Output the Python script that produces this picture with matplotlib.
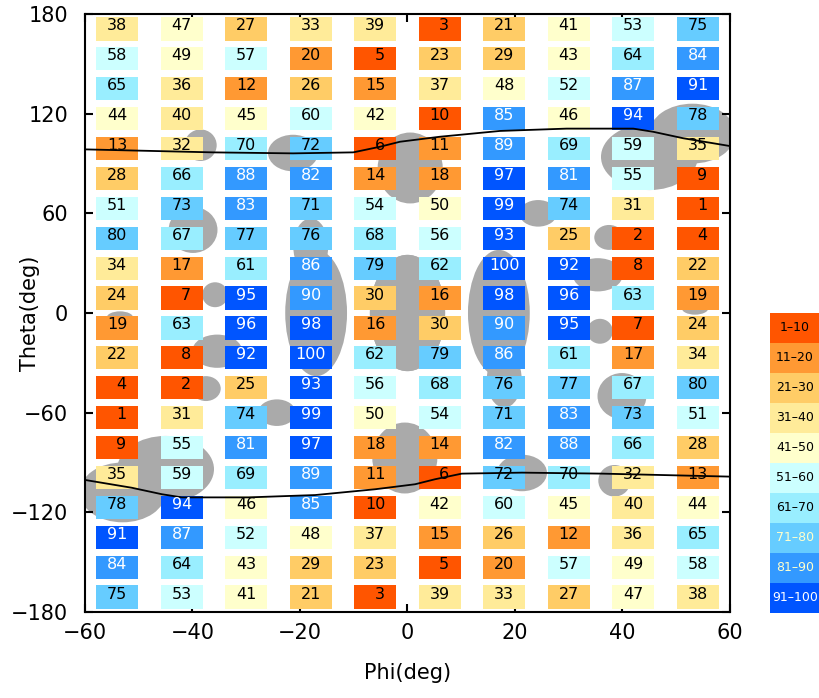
import numpy as np
import matplotlib
matplotlib.use("Agg")
import matplotlib.pyplot as plt
from matplotlib.patches import Ellipse, Rectangle


# rank of each cell, rows from theta=171 down to theta=-171, columns phi=-54 .. 54
rank = [
	[38, 47, 27, 33, 39, 3, 21, 41, 53, 75],
	[58, 49, 57, 20, 5, 23, 29, 43, 64, 84],
	[65, 36, 12, 26, 15, 37, 48, 52, 87, 91],
	[44, 40, 45, 60, 42, 10, 85, 46, 94, 78],
	[13, 32, 70, 72, 6, 11, 89, 69, 59, 35],
	[28, 66, 88, 82, 14, 18, 97, 81, 55, 9],
	[51, 73, 83, 71, 54, 50, 99, 74, 31, 1],
	[80, 67, 77, 76, 68, 56, 93, 25, 2, 4],
	[34, 17, 61, 86, 79, 62, 100, 92, 8, 22],
	[24, 7, 95, 90, 30, 16, 98, 96, 63, 19],
	[19, 63, 96, 98, 16, 30, 90, 95, 7, 24],
	[22, 8, 92, 100, 62, 79, 86, 61, 17, 34],
	[4, 2, 25, 93, 56, 68, 76, 77, 67, 80],
	[1, 31, 74, 99, 50, 54, 71, 83, 73, 51],
	[9, 55, 81, 97, 18, 14, 82, 88, 66, 28],
	[35, 59, 69, 89, 11, 6, 72, 70, 32, 13],
	[78, 94, 46, 85, 10, 42, 60, 45, 40, 44],
	[91, 87, 52, 48, 37, 15, 26, 12, 36, 65],
	[84, 64, 43, 29, 23, 5, 20, 57, 49, 58],
	[75, 53, 41, 21, 3, 39, 33, 27, 47, 38],
]

# rank bins for the colour key
bin_labels = ["1\u201310", "11\u201320", "21\u201330", "31\u201340", "41\u201350",
	"51\u201360", "61\u201370", "71\u201380", "81\u201390", "91\u2013100"]
bin_colors = ["#ff5500", "#ff9933", "#ffcc66", "#ffeb99", "#ffffcc",
	"#ccffff", "#99eeff", "#66ccff", "#3399ff", "#0055ff"]

# upper boundary line (the lower one is the same line turned by 180 deg)
curve_phi = [-60, -36.2, -21.3, -10.1, -5.1, -1.4, 6.0, 17.2, 29.6, 42.0, 45.7, 51.3, 60]
curve_theta = [98.5, 96.7, 96.1, 96.7, 100.1, 103.1, 106.1, 109.6, 111.0, 111.0, 109.1, 105.2, 100.5]

# shaded regions, each also drawn at (-phi, -theta)
blob_phi = [-38.5, -21.3, 0.5, 0.0, -39.9, -35.8, -17.0, -18.0, 24.3, 37.5, 35.4, 45.0, 53.0, 53.5]
blob_theta = [101, 96.3, 87.3, 0.0, 50.0, 11.0, 0.0, 40.0, 60.0, 45.5, 23.0, 94.0, 108.0, 3.0]
blob_w = [6, 9.3, 12.1, 14.0, 9.1, 4.8, 11.5, 6.5, 7.0, 5.5, 9.3, 18.0, 16.0, 5.0]
blob_h = [19, 22, 42.7, 70.0, 27.7, 15.0, 76.0, 34.0, 16.0, 15.0, 20.0, 40.0, 36.0, 8.0]


def bin_of(v):
	return (v - 1) // 10


fig = plt.figure(figsize=(8.2, 6.98), dpi=100)
ax = fig.add_axes([85 / 820, 86 / 698, 645 / 820, 598 / 698])
ax.set_xlim(-60, 60)
ax.set_ylim(-180, 180)

# gray regions under the cells
for p, t, w, h in zip(blob_phi, blob_theta, blob_w, blob_h):
	for s in (1, -1):
		ax.add_patch(Ellipse((s * p, s * t), w, h, facecolor="#aaaaaa", edgecolor="none", zorder=1))

# one coloured box with its rank per cell
phi_c = np.arange(-54, 60, 12)
theta_c = np.arange(171, -180, -18)
for i, t in enumerate(theta_c):
	for j, p in enumerate(phi_c):
		v = rank[i][j]
		k = bin_of(v)
		ax.add_patch(Rectangle((p - 3.95, t - 7), 7.9, 14, facecolor=bin_colors[k],
			edgecolor="none", zorder=2))
		dx = 0.8 if v < 10 else 0.0
		ax.text(p + dx, t + 1.8, str(v), ha="center", va="center", fontsize=11.5,
			color="white" if k >= 8 else "black", zorder=4)

# boundary lines
cp = np.array(curve_phi)
ct = np.array(curve_theta)
ax.plot(cp, ct, color="black", lw=1.3, zorder=3)
ax.plot(-cp[::-1], -ct[::-1], color="black", lw=1.3, zorder=3)

ax.set_xticks(np.arange(-60, 61, 20))
ax.set_yticks(np.arange(-180, 181, 60))
ax.tick_params(direction="in", length=6, width=1.5, top=True, right=True, labelsize=15)
ax.tick_params(axis="x", pad=8)
ax.tick_params(axis="y", pad=12)
for sp in ax.spines.values():
	sp.set_linewidth(1.5)

ax.set_xlabel("Phi(deg)", fontsize=15, labelpad=14)
ax.set_ylabel("Theta(deg)", fontsize=15, va="center")
ax.yaxis.set_label_coords(-0.085, 0.5)

# colour key
lax = fig.add_axes([770 / 820, 85.3 / 698, 50 / 820, 299.7 / 698])
lax.set_xlim(0, 1)
lax.set_ylim(0, 10)
lax.axis("off")
for k in range(10):
	lax.add_patch(Rectangle((0, 9 - k), 1, 1, facecolor=bin_colors[k], edgecolor="none"))
	if k == 9:
		tc = "white"
	elif k >= 7:
		tc = "#ffffcc"
	else:
		tc = "black"
	lax.text(0.5, 9.5 - k, bin_labels[k], ha="center", va="center", fontsize=9, color=tc)

fig.savefig("out.png", dpi=100)
